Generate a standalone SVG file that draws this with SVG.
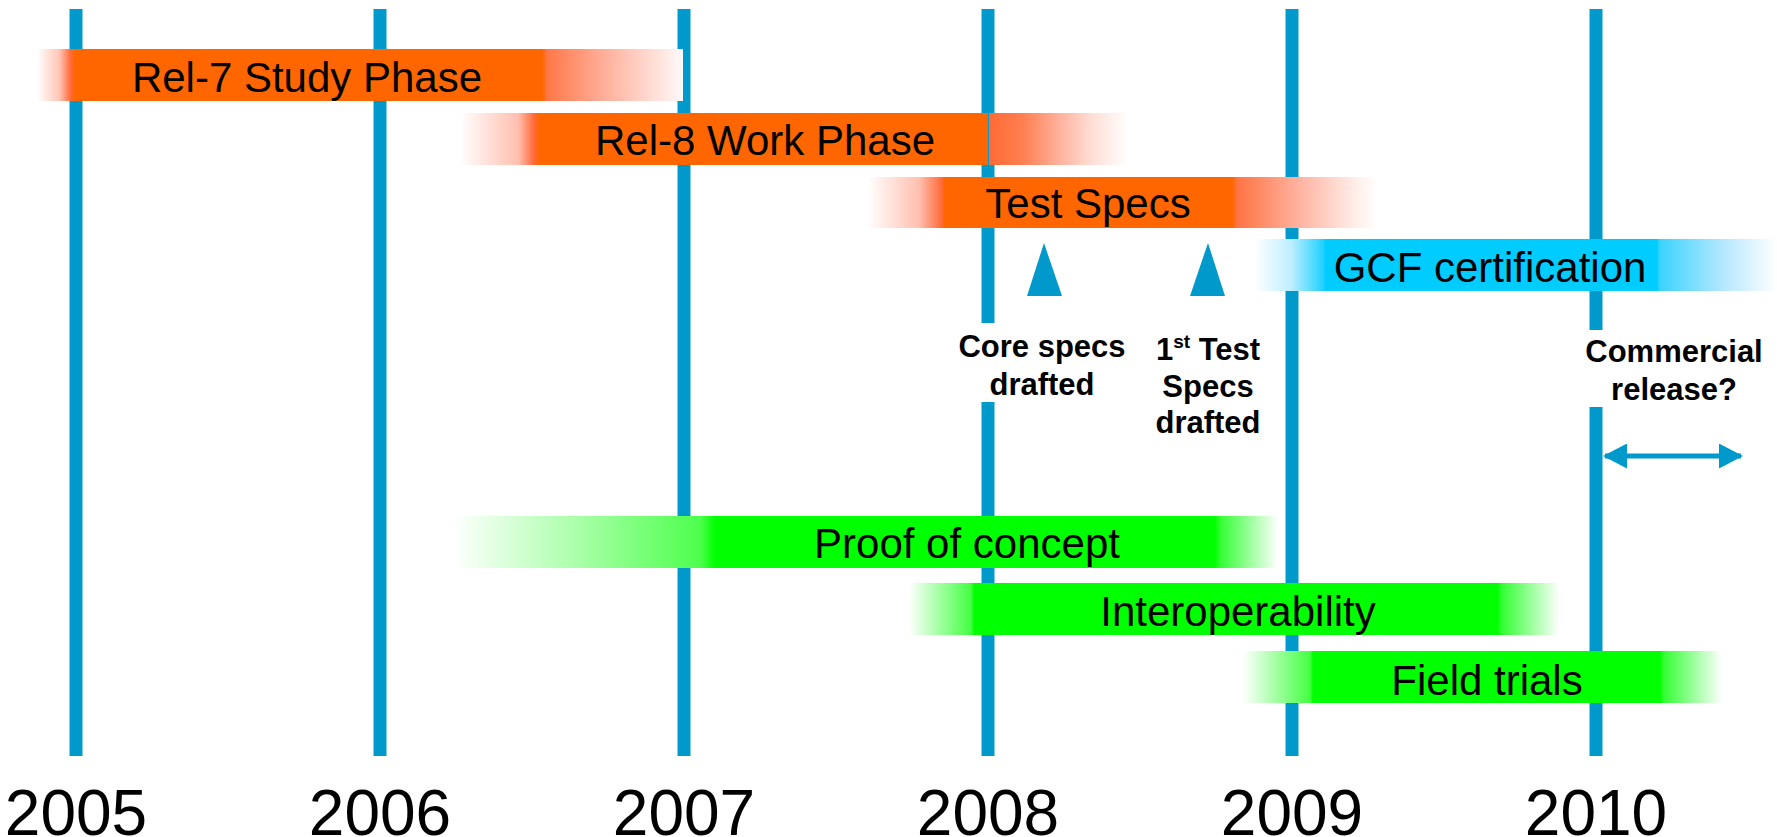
<svg xmlns="http://www.w3.org/2000/svg" width="1777" height="837" viewBox="0 0 1777 837">
  <style>
    .year-line { fill: #0099cc; }
    .bar-text { font-family: "Liberation Sans", Arial, sans-serif; font-size: 42px; fill: #000; text-anchor: middle; }
    .year { font-family: "Liberation Sans", Arial, sans-serif; font-size: 64px; fill: #000; text-anchor: middle; }
    .note { font-family: "Liberation Sans", Arial, sans-serif; font-size: 31px; font-weight: bold; fill: #000; text-anchor: middle; }
    .milestone { fill: #0099cc; }
    .span-arrow { stroke: #0099cc; stroke-width: 5; fill: none; }
  </style>
  <defs>
    <marker id="arrow-head" viewBox="0 0 24 25" refX="22" refY="12.5" markerWidth="24" markerHeight="25" markerUnits="userSpaceOnUse" orient="auto-start-reverse">
      <path d="M0,0 L24,12.5 L0,25 Z" fill="#0099cc"/>
    </marker>

    <!-- orange phase bars -->
    <linearGradient id="g-rel7" gradientUnits="userSpaceOnUse" x1="37" y1="0" x2="683" y2="0">
      <stop offset="0" stop-color="#ffffff"/>
      <stop offset="0.035" stop-color="#ffc4b4"/>
      <stop offset="0.052" stop-color="#ff6a3a"/>
      <stop offset="0.059" stop-color="#ff6600"/>
      <stop offset="0.782" stop-color="#ff6600"/>
      <stop offset="0.79" stop-color="#ff7848"/>
      <stop offset="0.87" stop-color="#ffaa94"/>
      <stop offset="1" stop-color="#fffafa"/>
    </linearGradient>
    <linearGradient id="g-rel8" gradientUnits="userSpaceOnUse" x1="460" y1="0" x2="988" y2="0">
      <stop offset="0" stop-color="#ffffff"/>
      <stop offset="0.11" stop-color="#ffc0b0"/>
      <stop offset="0.14" stop-color="#ff6a3a"/>
      <stop offset="0.15" stop-color="#ff6600"/>
      <stop offset="1" stop-color="#ff6600"/>
    </linearGradient>
    <linearGradient id="g-rel8-tail" gradientUnits="userSpaceOnUse" x1="989" y1="0" x2="1128" y2="0">
      <stop offset="0" stop-color="#ff6a34"/>
      <stop offset="0.25" stop-color="#ff8052"/>
      <stop offset="0.5" stop-color="#ffb09c"/>
      <stop offset="0.75" stop-color="#ffe0d8"/>
      <stop offset="1" stop-color="#ffffff"/>
    </linearGradient>
    <linearGradient id="g-test" gradientUnits="userSpaceOnUse" x1="868" y1="0" x2="1377" y2="0">
      <stop offset="0" stop-color="#ffffff"/>
      <stop offset="0.1" stop-color="#ffc0b0"/>
      <stop offset="0.145" stop-color="#ff6a3a"/>
      <stop offset="0.151" stop-color="#ff6600"/>
      <stop offset="0.716" stop-color="#ff6600"/>
      <stop offset="0.725" stop-color="#ff7444"/>
      <stop offset="0.85" stop-color="#ffb4a2"/>
      <stop offset="0.95" stop-color="#ffeae4"/>
      <stop offset="1" stop-color="#ffffff"/>
    </linearGradient>

    <!-- blue certification bar -->
    <linearGradient id="g-gcf" gradientUnits="userSpaceOnUse" x1="1255" y1="0" x2="1777" y2="0">
      <stop offset="0" stop-color="#ffffff"/>
      <stop offset="0.07" stop-color="#bdeeff"/>
      <stop offset="0.13" stop-color="#22d2ff"/>
      <stop offset="0.136" stop-color="#00ccff"/>
      <stop offset="0.77" stop-color="#00ccff"/>
      <stop offset="0.775" stop-color="#3ad3ff"/>
      <stop offset="0.9" stop-color="#b8e8ff"/>
      <stop offset="1" stop-color="#ffffff"/>
    </linearGradient>

    <!-- green trial bars -->
    <linearGradient id="g-poc" gradientUnits="userSpaceOnUse" x1="453" y1="0" x2="1278" y2="0">
      <stop offset="0" stop-color="#ffffff"/>
      <stop offset="0.15" stop-color="#aaffaa"/>
      <stop offset="0.3" stop-color="#4dff4d"/>
      <stop offset="0.318" stop-color="#00ff00"/>
      <stop offset="0.923" stop-color="#00ff00"/>
      <stop offset="0.93" stop-color="#33ff33"/>
      <stop offset="1" stop-color="#ffffff"/>
    </linearGradient>
    <linearGradient id="g-iop" gradientUnits="userSpaceOnUse" x1="909" y1="0" x2="1559" y2="0">
      <stop offset="0" stop-color="#ffffff"/>
      <stop offset="0.095" stop-color="#44ff44"/>
      <stop offset="0.101" stop-color="#00ff00"/>
      <stop offset="0.905" stop-color="#00ff00"/>
      <stop offset="0.912" stop-color="#33ff33"/>
      <stop offset="1" stop-color="#ffffff"/>
    </linearGradient>
    <linearGradient id="g-field" gradientUnits="userSpaceOnUse" x1="1243" y1="0" x2="1722" y2="0">
      <stop offset="0" stop-color="#ffffff"/>
      <stop offset="0.14" stop-color="#44ff44"/>
      <stop offset="0.146" stop-color="#00ff00"/>
      <stop offset="0.871" stop-color="#00ff00"/>
      <stop offset="0.878" stop-color="#33ff33"/>
      <stop offset="1" stop-color="#ffffff"/>
    </linearGradient>
  </defs>

  <rect x="0" y="0" width="1777" height="837" fill="#ffffff"/>

  <!-- year grid lines -->
  <g id="timeline">
    <rect class="year-line" x="69.5" y="9" width="13" height="747"/>
    <rect class="year-line" x="373.5" y="9" width="13" height="747"/>
    <rect class="year-line" x="677.5" y="9" width="13" height="747"/>
    <rect class="year-line" x="981.5" y="9" width="13" height="314"/>
    <rect class="year-line" x="981.5" y="402" width="13" height="354"/>
    <rect class="year-line" x="1285.5" y="9" width="13" height="747"/>
    <rect class="year-line" x="1589.5" y="9" width="13" height="321"/>
    <rect class="year-line" x="1589.5" y="407" width="13" height="349"/>
  </g>

  <!-- year labels -->
  <g id="years">
    <text class="year" x="76" y="835">2005</text>
    <text class="year" x="380" y="835">2006</text>
    <text class="year" x="684" y="835">2007</text>
    <text class="year" x="988" y="835">2008</text>
    <text class="year" x="1292" y="835">2009</text>
    <text class="year" x="1596" y="835">2010</text>
  </g>

  <g id="rel7-study">
    <rect x="37" y="49" width="646" height="52" fill="url(#g-rel7)"/>
    <text class="bar-text" x="307" y="92">Rel-7 Study Phase</text>
  </g>

  <g id="rel8-work">
    <rect x="460" y="113" width="528" height="52" fill="url(#g-rel8)"/>
    <rect x="989" y="113" width="139" height="52" fill="url(#g-rel8-tail)"/>
    <text class="bar-text" x="765" y="155">Rel-8 Work Phase</text>
  </g>

  <g id="test-specs">
    <rect x="868" y="177" width="509" height="51" fill="url(#g-test)"/>
    <text class="bar-text" x="1088" y="218">Test Specs</text>
  </g>

  <g id="gcf-certification">
    <rect x="1255" y="239" width="522" height="52" fill="url(#g-gcf)"/>
    <text class="bar-text" x="1490" y="282">GCF certification</text>
  </g>

  <g id="proof-of-concept">
    <rect x="453" y="516" width="825" height="52" fill="url(#g-poc)"/>
    <text class="bar-text" x="967" y="558">Proof of concept</text>
  </g>

  <g id="interoperability">
    <rect x="909" y="583" width="650" height="52" fill="url(#g-iop)"/>
    <text class="bar-text" x="1238" y="626">Interoperability</text>
  </g>

  <g id="field-trials">
    <rect x="1243" y="651" width="479" height="52" fill="url(#g-field)"/>
    <text class="bar-text" x="1487" y="695">Field trials</text>
  </g>

  <g id="core-specs-drafted">
    <polygon class="milestone" points="1027,296 1044,243 1062,296"/>
    <text class="note" x="1042" y="357">Core specs</text>
    <text class="note" x="1042" y="395">drafted</text>
  </g>

  <g id="test-specs-drafted">
    <polygon class="milestone" points="1190,296 1208,243 1225,296"/>
    <text class="note" x="1208" y="360">1<tspan font-size="19" dy="-12">st</tspan><tspan dy="12"> Test</tspan></text>
    <text class="note" x="1208" y="397">Specs</text>
    <text class="note" x="1208" y="433">drafted</text>
  </g>

  <g id="commercial-release">
    <text class="note" x="1674" y="362">Commercial</text>
    <text class="note" x="1674" y="400">release?</text>
  </g>

  <g id="connectors">
    <line class="span-arrow" x1="1605" y1="456" x2="1741" y2="456" marker-start="url(#arrow-head)" marker-end="url(#arrow-head)"/>
  </g>
</svg>
